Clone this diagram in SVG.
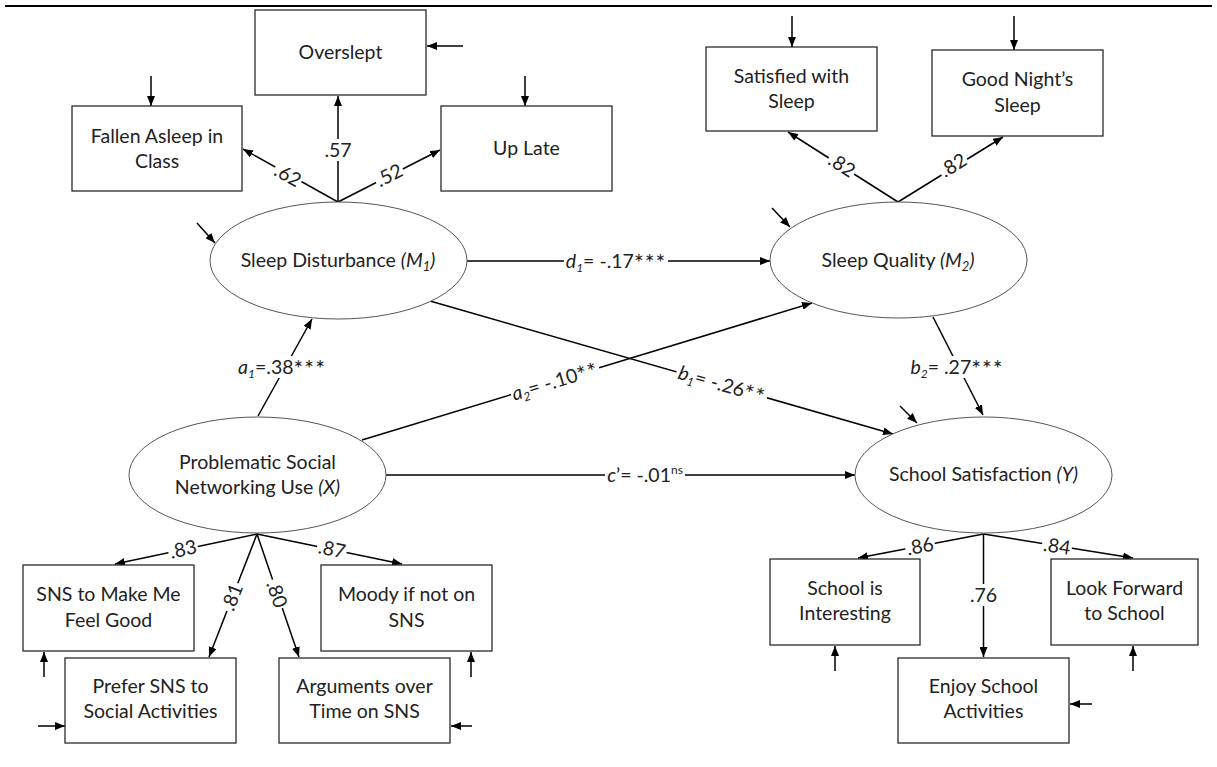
<svg xmlns="http://www.w3.org/2000/svg" width="1217" height="767" viewBox="0 0 1217 767">
<defs>
<marker id="ah" viewBox="0 0 10 8" refX="10" refY="4" markerWidth="10" markerHeight="8" markerUnits="userSpaceOnUse" orient="auto">
<path d="M0,0 L10,4 L0,8 z" fill="#000"/>
</marker>
</defs>
<style>
.box{fill:#fff;stroke:#2a2a2a;stroke-width:1.3}
.ell{fill:#fff;stroke:#555;stroke-width:1}
.t{font-family:Lato,"Liberation Sans",sans-serif;font-size:19.5px;fill:#222;text-anchor:middle}
.e{stroke:#000;stroke-width:1.5;fill:none;marker-end:url(#ah)}
.bg{fill:#fff}
.i{font-style:italic}
.st{font-size:23px;letter-spacing:1px}
</style>
<rect width="1217" height="767" fill="#fff"/>
<line x1="5" y1="6" x2="1212" y2="6" stroke="#000" stroke-width="2.2"/>

<g id="connectors">
<!-- indicator loadings: Sleep Disturbance -->
<line class="e" x1="338" y1="202" x2="243" y2="149"/>
<line class="e" x1="338" y1="202" x2="338" y2="96"/>
<line class="e" x1="338" y1="202" x2="440" y2="150"/>
<!-- Sleep Quality -->
<line class="e" x1="898" y1="202" x2="788" y2="132"/>
<line class="e" x1="898" y1="202" x2="1003" y2="137"/>
<!-- Problematic -->
<line class="e" x1="257" y1="534" x2="115" y2="564"/>
<line class="e" x1="257" y1="534" x2="402" y2="564"/>
<line class="e" x1="257" y1="534" x2="209" y2="657"/>
<line class="e" x1="257" y1="534" x2="299" y2="657"/>
<!-- School Satisfaction -->
<line class="e" x1="983.5" y1="534" x2="858" y2="558"/>
<line class="e" x1="983.5" y1="534" x2="1133" y2="558"/>
<line class="e" x1="983.5" y1="534" x2="983.5" y2="657"/>
<!-- structural paths -->
<line class="e" x1="258" y1="416" x2="312" y2="319"/>
<line class="e" x1="362" y1="440" x2="812" y2="303"/>
<line class="e" x1="430" y1="301" x2="893" y2="434"/>
<line class="e" x1="933" y1="317" x2="983" y2="415"/>
<line class="e" x1="467" y1="261" x2="770" y2="261"/>
<line class="e" x1="386" y1="475" x2="855" y2="475"/>
<!-- residual arrows -->
<line class="e" x1="463" y1="46" x2="427" y2="46"/>
<line class="e" x1="151" y1="76" x2="151" y2="106"/>
<line class="e" x1="525" y1="76" x2="525" y2="106"/>
<line class="e" x1="792" y1="16" x2="792" y2="47"/>
<line class="e" x1="1014" y1="16" x2="1014" y2="50"/>
<line class="e" x1="197" y1="223" x2="215" y2="243"/>
<line class="e" x1="772" y1="208" x2="790" y2="227"/>
<line class="e" x1="900" y1="406" x2="917" y2="423"/>
<line class="e" x1="44" y1="677" x2="44" y2="652"/>
<line class="e" x1="38" y1="726" x2="65" y2="726"/>
<line class="e" x1="472" y1="726" x2="451" y2="726"/>
<line class="e" x1="471" y1="677" x2="471" y2="652"/>
<line class="e" x1="835" y1="671" x2="835" y2="646"/>
<line class="e" x1="1133" y1="671" x2="1133" y2="646"/>
<line class="e" x1="1092" y1="704" x2="1070" y2="704"/>

<!-- labels -->
<g transform="translate(288,175) rotate(29.2)"><rect class="bg" x="-15" y="-10" width="30" height="20"/><text class="t" y="7">.62</text></g>
<g transform="translate(338,150)"><rect class="bg" x="-15" y="-11" width="30" height="22"/><text class="t" y="7">.57</text></g>
<g transform="translate(389,175) rotate(-27)"><rect class="bg" x="-15" y="-10" width="30" height="20"/><text class="t" y="7">.52</text></g>
<g transform="translate(842,165) rotate(32.5)"><rect class="bg" x="-15" y="-10" width="30" height="20"/><text class="t" y="7">.82</text></g>
<g transform="translate(953,165) rotate(-31.8)"><rect class="bg" x="-15" y="-10" width="30" height="20"/><text class="t" y="7">.82</text></g>
<g transform="translate(183,549) rotate(-12)"><rect class="bg" x="-15" y="-10" width="30" height="20"/><text class="t" y="7">.83</text></g>
<g transform="translate(332,549) rotate(12)"><rect class="bg" x="-15" y="-10" width="30" height="20"/><text class="t" y="7">.87</text></g>
<g transform="translate(232,597) rotate(-68.7)"><rect class="bg" x="-15" y="-10" width="30" height="20"/><text class="t" y="7">.81</text></g>
<g transform="translate(277,594) rotate(71)"><rect class="bg" x="-15" y="-10" width="30" height="20"/><text class="t" y="7">.80</text></g>
<g transform="translate(920,546) rotate(-10.9)"><rect class="bg" x="-15" y="-10" width="30" height="20"/><text class="t" y="7">.86</text></g>
<g transform="translate(1057,546) rotate(9.1)"><rect class="bg" x="-15" y="-10" width="30" height="20"/><text class="t" y="7">.84</text></g>
<g transform="translate(983.5,595)"><rect class="bg" x="-15" y="-11" width="30" height="22"/><text class="t" y="7">.76</text></g>

<g transform="translate(282,367)"><rect class="bg" x="-48" y="-11" width="96" height="22"/><text class="t" y="7"><tspan class="i">a</tspan><tspan class="i" font-size="12" dy="4">1</tspan><tspan dy="-4">=.38</tspan><tspan class="st" dy="3">***</tspan></text></g>
<g transform="translate(957,367)"><rect class="bg" x="-48" y="-11" width="96" height="22"/><text class="t" y="7"><tspan class="i">b</tspan><tspan class="i" font-size="12" dy="4">2</tspan><tspan dy="-4">= .27</tspan><tspan class="st" dy="3">***</tspan></text></g>
<g transform="translate(616,261)"><rect class="bg" x="-52" y="-11" width="104" height="22"/><text class="t" y="7"><tspan class="i">d</tspan><tspan class="i" font-size="12" dy="4">1</tspan><tspan dy="-4">= -.17</tspan><tspan class="st" dy="3">***</tspan></text></g>
<g transform="translate(645,475)"><rect class="bg" x="-40" y="-12" width="80" height="24"/><text class="t" y="7"><tspan class="i">c</tspan>’= -.01<tspan font-size="12" dy="-8">ns</tspan></text></g>
<g transform="translate(555,381) rotate(-16.9)"><rect class="bg" x="-46" y="-11" width="92" height="22"/><text class="t" y="7"><tspan class="i">a</tspan><tspan class="i" font-size="12" dy="4">2</tspan><tspan dy="-4">= -.10</tspan><tspan class="st" dy="3">**</tspan></text></g>
<g transform="translate(722,384) rotate(16)"><rect class="bg" x="-47" y="-11" width="94" height="22"/><text class="t" y="7"><tspan class="i">b</tspan><tspan class="i" font-size="12" dy="4">1</tspan><tspan dy="-4">= -.26</tspan><tspan class="st" dy="3">**</tspan></text></g>
</g>

<g id="overslept"><rect class="box" x="255" y="10" width="171" height="85"/><text class="t" x="340.5" y="59">Overslept</text></g>
<g id="fallen-asleep"><rect class="box" x="72" y="106" width="170" height="85"/><text class="t" x="157" y="143">Fallen Asleep in</text><text class="t" x="157" y="168">Class</text></g>
<g id="up-late"><rect class="box" x="441" y="106" width="171" height="85"/><text class="t" x="526.5" y="155">Up Late</text></g>
<g id="satisfied-sleep"><rect class="box" x="706" y="47" width="171" height="84"/><text class="t" x="791.5" y="83">Satisfied with</text><text class="t" x="791.5" y="108">Sleep</text></g>
<g id="good-night"><rect class="box" x="932" y="50" width="171" height="86"/><text class="t" x="1017.5" y="86">Good Night’s</text><text class="t" x="1017.5" y="112">Sleep</text></g>

<g id="sleep-disturbance"><ellipse class="ell" cx="338.5" cy="260.5" rx="128.5" ry="58.5"/><text class="t" x="338" y="267">Sleep Disturbance <tspan class="i">(M<tspan font-size="13" dy="4">1</tspan><tspan dy="-4">)</tspan></tspan></text></g>
<g id="sleep-quality"><ellipse class="ell" cx="898.5" cy="260" rx="128.5" ry="58"/><text class="t" x="898" y="267">Sleep Quality <tspan class="i">(M<tspan font-size="13" dy="4">2</tspan><tspan dy="-4">)</tspan></tspan></text></g>
<g id="problematic-sns"><ellipse class="ell" cx="257.5" cy="475" rx="128.5" ry="58"/><text class="t" x="257.5" y="469">Problematic Social</text><text class="t" x="257.5" y="494">Networking Use <tspan class="i">(X)</tspan></text></g>
<g id="school-satisfaction"><ellipse class="ell" cx="983.5" cy="475" rx="128.5" ry="58"/><text class="t" x="983.5" y="481">School Satisfaction <tspan class="i">(Y)</tspan></text></g>

<g id="sns-feel-good"><rect class="box" x="23" y="565" width="171" height="86"/><text class="t" x="108.5" y="601">SNS to Make Me</text><text class="t" x="108.5" y="627">Feel Good</text></g>
<g id="moody"><rect class="box" x="321" y="565" width="171" height="86"/><text class="t" x="406.5" y="601">Moody if not on</text><text class="t" x="406.5" y="627">SNS</text></g>
<g id="prefer-sns"><rect class="box" x="65" y="658" width="171" height="85"/><text class="t" x="150.5" y="693">Prefer SNS to</text><text class="t" x="150.5" y="718">Social Activities</text></g>
<g id="arguments"><rect class="box" x="279" y="658" width="171" height="85"/><text class="t" x="364.5" y="693">Arguments over</text><text class="t" x="364.5" y="718">Time on SNS</text></g>
<g id="school-interesting"><rect class="box" x="770" y="559" width="150" height="86"/><text class="t" x="845" y="595">School is</text><text class="t" x="845" y="620">Interesting</text></g>
<g id="look-forward"><rect class="box" x="1051" y="559" width="147" height="86"/><text class="t" x="1124.5" y="595">Look Forward</text><text class="t" x="1124.5" y="620">to School</text></g>
<g id="enjoy-activities"><rect class="box" x="898" y="658" width="171" height="85"/><text class="t" x="983.5" y="693">Enjoy School</text><text class="t" x="983.5" y="718">Activities</text></g>
</svg>
